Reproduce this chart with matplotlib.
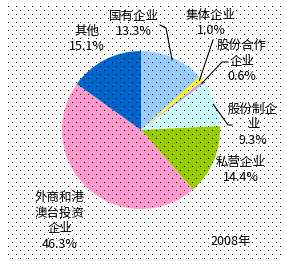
"""
2008 pie chart of company types, drawn on a dotted background
"""

import matplotlib
matplotlib.use("Agg")
import matplotlib.pyplot as plt
import numpy as np

plt.rcParams["font.family"] = ["Noto Sans CJK SC", "DejaVu Sans"]

# the slices, clockwise from the top
labels = ["国有企业", "集体企业", "股份合作\n企业", "股份制企\n业", "私营企业",
          "外商和港\n澳台投资\n企业", "其他"]
shares = [13.3, 1.0, 0.6, 9.3, 14.4, 46.3, 15.1]
colors = ["#99ccff", "#ffff00", "#cc99ff", "#ccffff", "#99cc00", "#ff99cc", "#0066cc"]
year_note = "2008年"

# where each label sits (pixels) and whether it gets a leader line
label_pos = [(134, 24), (211, 23), (242, 61), (253, 125), (241, 170), (60, 221), (87, 39)]
leaders = [
    [(160, 25), (166, 28), None],
    [(213, 40), None],
    [(228, 62), (222, 62), None],
    [(232, 125), (228, 125), None],
    None, None, None,
]

fig = plt.figure(figsize=(2.88, 2.68), dpi=100)
ax = fig.add_axes([0, 0, 1, 1])

# dotted fill, every 8 px with rows shifted by half a step
for i, y in enumerate(np.arange(7, 262, 4)):
    xs = np.arange(8 if i % 2 == 0 else 12, 282, 8)
    ax.plot(xs, np.full(len(xs), y), ",", color="black")

cx, cy, r = 141, 130, 79
wedges, _ = ax.pie(shares, colors=colors, startangle=-90, counterclock=True,
                   center=(cx, cy), radius=r, frame=True,
                   wedgeprops={"linewidth": 0})

for w, lab, val, (lx, ly), lead in zip(wedges, labels, shares, label_pos, leaders):
    ax.text(lx, ly, f"{lab}\n{val:.1f}%", ha="center", va="center",
            fontsize=9, linespacing=1.25)
    if lead:
        # last point of the leader is on the slice edge
        mid = np.deg2rad((w.theta1 + w.theta2) / 2)
        edge = (cx + 0.97 * r * np.cos(mid), cy + 0.97 * r * np.sin(mid))
        pts = [p if p is not None else edge for p in lead]
        ax.plot([p[0] for p in pts], [p[1] for p in pts], color="black", lw=0.8)

ax.text(231, 241, year_note, ha="center", va="center", fontsize=9)

ax.set_xlim(0, 288)
ax.set_ylim(268, 0)
ax.set_aspect("auto")
ax.axis("off")

fig.savefig("out.png", dpi=100)
